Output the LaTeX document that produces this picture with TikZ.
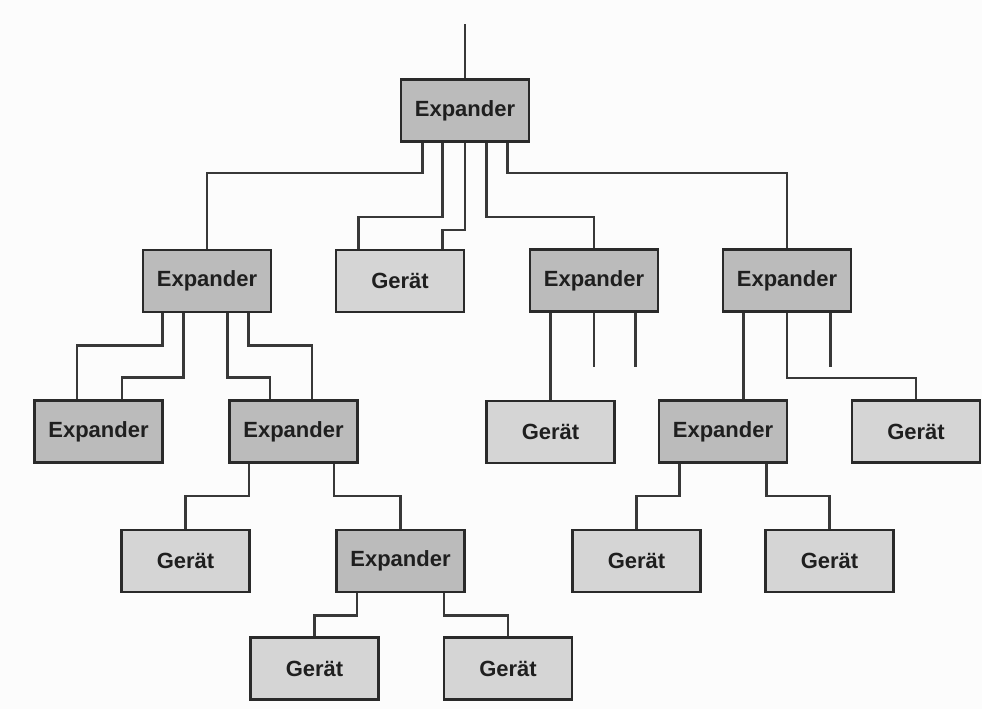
\documentclass[tikz,border=0pt]{standalone}
\usepackage{fontspec}
\setmainfont{Liberation Sans}
\usetikzlibrary{calc}
\definecolor{expfill}{HTML}{BBBBBB}
\definecolor{gerfill}{HTML}{D5D5D5}
\definecolor{edge}{HTML}{2A2A2A}
\definecolor{wire}{HTML}{383838}
\definecolor{bg}{HTML}{FCFCFC}
\tikzset{
  box/.style={draw=edge, line width=2.8pt, minimum width=128pt, minimum height=62pt,
    inner sep=0pt, font=\fontsize{22}{24}\selectfont\bfseries, text=black!88},
  expbox/.style={box, fill=expfill},
  gerbox/.style={box, fill=gerfill},
  wire/.style={draw=wire, line width=2.6pt}
}
\begin{document}
\begin{tikzpicture}[x=1pt,y=-1pt]
\fill[bg] (0,0) rectangle (982,709);
\useasboundingbox (0,0) rectangle (982,709);
% nodes
\node[expbox] (E0) at (465,110.5) {Expander};
\node[expbox] (E1) at (207,281) {Expander};
\node[gerbox] (G1) at (400,281) {Gerät};
\node[expbox] (E2) at (594,280.5) {Expander};
\node[expbox] (E3) at (787,280.5) {Expander};
\node[expbox] (E5) at (98.5,431.5) {Expander};
\node[expbox] (E6) at (293.5,431.5) {Expander};
\node[gerbox] (G2) at (550.5,432) {Gerät};
\node[expbox] (E4) at (723,431.5) {Expander};
\node[gerbox] (G3) at (916,431.5) {Gerät};
\node[gerbox] (G6) at (185.5,561) {Gerät};
\node[expbox] (E7) at (400.5,561) {Expander};
\node[gerbox] (G4) at (636.5,561) {Gerät};
\node[gerbox] (G5) at (829.5,561) {Gerät};
\node[gerbox] (G7) at (314.5,668.5) {Gerät};
\node[gerbox] (G8) at (508,668.5) {Gerät};
% top feed
\coordinate (top) at (465,24);
\draw[wire] (E0.north) -- (top);
% E0 connectors
\draw[wire] ([xshift=23pt]E0.south west) -- ++(0,30) -| (E1.north);
\draw[wire] ([xshift=43pt]E0.south west) -- ++(0,74) -| ([xshift=24pt]G1.north west);
\draw[wire] (E0.south) -- ++(0,87) -| ([xshift=-23pt]G1.north east);
\draw[wire] ([xshift=87pt]E0.south west) -- ++(0,74) -| (E2.north);
\draw[wire] ([xshift=108pt]E0.south west) -- ++(0,30) -| (E3.north);
% E1 connectors
\draw[wire] ([xshift=21pt]E1.south west) -- ++(0,32) -| ([xshift=44pt]E5.north west);
\draw[wire] ([xshift=42pt]E1.south west) -- ++(0,64) -| ([xshift=89pt]E5.north west);
\draw[wire] ([xshift=86pt]E1.south west) -- ++(0,64) -| ([xshift=42pt]E6.north west);
\draw[wire] ([xshift=107pt]E1.south west) -- ++(0,32) -| ([xshift=84pt]E6.north west);
% E2 connectors
\draw[wire] (G2.north) -- (G2.north |- E2.south);
\draw[wire] (E2.south) -- ++(0,54);
\draw[wire] ([xshift=107pt]E2.south west) -- ++(0,54);
% E3 connectors
\draw[wire] ([xshift=86pt]E4.north west) -- ([xshift=86pt]E4.north west |- E3.south);
\draw[wire] (E3.south) -- ++(0,65) -| (G3.north);
\draw[wire] ([xshift=109pt]E3.south west) -- ++(0,54);
% E6 connectors
\draw[wire] ([xshift=21pt]E6.south west) -- ++(0,32) -| (G6.north);
\draw[wire] ([xshift=106pt]E6.south west) -- ++(0,32) -| (E7.north);
% E7 connectors
\draw[wire] ([xshift=22pt]E7.south west) -- ++(0,22) -| (G7.north);
\draw[wire] ([xshift=109pt]E7.south west) -- ++(0,22) -| (G8.north);
% E4 connectors
\draw[wire] ([xshift=22pt]E4.south west) -- ++(0,32) -| (G4.north);
\draw[wire] ([xshift=109pt]E4.south west) -- ++(0,32) -| (G5.north);
\end{tikzpicture}
\end{document}
